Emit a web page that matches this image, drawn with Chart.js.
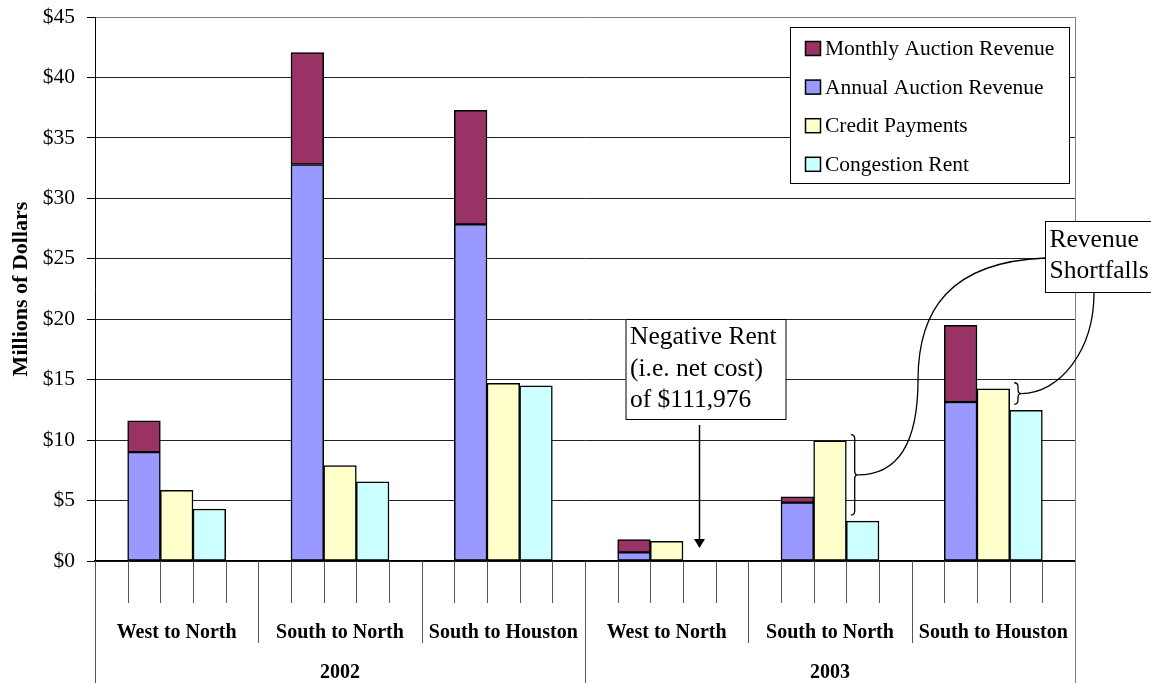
<!DOCTYPE html>
<html lang="en">
<head>
<meta charset="UTF-8">
<title>Auction Revenue, Credit Payments and Congestion Rent</title>
<script src="https://cdn.jsdelivr.net/npm/chart.js"></script>
<style>
  body { margin: 0; background: #fff; }
  canvas { display: block; }
</style>
</head>
<body>
<canvas id="revenueChart" width="1151" height="683"></canvas>
<script>
  // Millions of dollars, one value per route, 2002 routes first then 2003
  const years = ['2002', '2003'];
  const routes = ['West to North', 'South to North', 'South to Houston'];
  const annualAuction  = [9.0, 32.8, 27.84, 0.72, 4.83, 13.15];
  const monthlyAuction = [2.6, 9.25, 9.43, 1.05, 0.47, 6.35];
  const creditPayments = [5.85, 7.9, 14.69, 1.63, 9.95, 14.25];
  const congestionRent = [4.3, 6.55, 14.5, -0.111976, 3.3, 12.46];
  const yMax = 45;
  const yStep = 5;

  const SERIF = "'Liberation Serif', 'Times New Roman', serif";
  const SLOTS = 5;                       // empty, auction stack, credit, rent, empty
  const groupCount = years.length * routes.length;
  const slotCount = groupCount * SLOTS;

  // put one value per group into its slot, leave the other slots empty
  function spread(values, slot) {
    const out = [];
    values.forEach(v => {
      for (let s = 0; s < SLOTS; s++) out.push(s === slot ? v : null);
    });
    return out;
  }

  const labels = [];
  years.forEach(yr => routes.forEach(r => {
    for (let s = 0; s < SLOTS; s++) labels.push(r + ' ' + yr);
  }));

  const barStyle = {
    borderColor: '#000',
    borderWidth: 1.5,
    borderSkipped: false,
    categoryPercentage: 1,
    barPercentage: 1
  };

  const datasets = [
    { label: 'Annual Auction Revenue', data: spread(annualAuction, 1), backgroundColor: '#9999FF', ...barStyle },
    { label: 'Monthly Auction Revenue', data: spread(monthlyAuction, 1), backgroundColor: '#993366', ...barStyle },
    { label: 'Credit Payments', data: spread(creditPayments, 2), backgroundColor: '#FFFFCC', ...barStyle },
    { label: 'Congestion Rent', data: spread(congestionRent, 3), backgroundColor: '#CCFFFF', ...barStyle }
  ];
  const legendOrder = [1, 0, 2, 3];

  function line(ctx, x1, y1, x2, y2) {
    ctx.beginPath();
    ctx.moveTo(x1, y1);
    ctx.lineTo(x2, y2);
    ctx.stroke();
  }

  function brace(ctx, x0, top, bot, d) {
    const mid = (top + bot) / 2;
    const r = Math.min(4, (bot - top) / 4);
    const xs = x0 + d * 0.55;
    ctx.beginPath();
    ctx.moveTo(x0, top);
    ctx.quadraticCurveTo(xs, top, xs, top + r);
    ctx.lineTo(xs, mid - r);
    ctx.quadraticCurveTo(xs, mid, x0 + d, mid);
    ctx.quadraticCurveTo(xs, mid, xs, mid + r);
    ctx.lineTo(xs, bot - r);
    ctx.quadraticCurveTo(xs, bot, x0, bot);
    ctx.stroke();
  }

  function textBox(ctx, left, top, width, height, lines, baseline0, lineGap) {
    ctx.fillStyle = '#fff';
    ctx.fillRect(left, top, width, height);
    ctx.strokeStyle = '#000';
    ctx.lineWidth = 1;
    ctx.strokeRect(left + 0.5, top + 0.5, width, height);
    ctx.fillStyle = '#000';
    ctx.font = '25.5px ' + SERIF;
    ctx.textAlign = 'left';
    ctx.textBaseline = 'alphabetic';
    lines.forEach((t, i) => ctx.fillText(t, left + 4.5, baseline0 + i * lineGap));
  }

  // axis separators, group labels, legend and call-outs
  const overlay = {
    id: 'overlay',
    afterDraw(chart) {
      const { ctx, chartArea: a, scales: { x, y } } = chart;
      const H = chart.height;
      const w = (a.right - a.left) / slotCount;
      ctx.save();

      // plot frame on the right, and axis lines carried down through the label rows
      ctx.lineWidth = 1;
      ctx.strokeStyle = '#808080';
      line(ctx, Math.round(a.right) + 0.5, a.top, Math.round(a.right) + 0.5, H);
      ctx.strokeStyle = '#555';
      line(ctx, Math.round(a.left) + 0.5, a.bottom, Math.round(a.left) + 0.5, H);

      for (let i = 1; i < slotCount; i++) {
        const px = Math.round(a.left + i * w) + 0.5;
        let end = a.bottom + 42;
        if (i % (SLOTS * routes.length) === 0) end = H;
        else if (i % SLOTS === 0) end = a.bottom + 82;
        line(ctx, px, a.bottom, px, end);
      }

      ctx.fillStyle = '#000';
      ctx.textAlign = 'center';
      ctx.textBaseline = 'alphabetic';
      ctx.font = 'bold 20px ' + SERIF;
      for (let g = 0; g < groupCount; g++) {
        const cx = a.left + (g + 0.5) * SLOTS * w;
        ctx.fillText(routes[g % routes.length], cx, a.bottom + 77);
      }
      years.forEach((yr, k) => {
        const cx = a.left + (k + 0.5) * SLOTS * routes.length * w;
        ctx.fillText(yr, cx, a.bottom + 117);
      });

      // y axis title
      ctx.save();
      ctx.translate(27, (a.top + a.bottom) / 2);
      ctx.rotate(-Math.PI / 2);
      ctx.font = 'bold 22px ' + SERIF;
      ctx.fillText('Millions of Dollars', 0, 0);
      ctx.restore();

      // legend
      const lx = 790, ly = 27;
      ctx.fillStyle = '#fff';
      ctx.fillRect(lx, ly, 279, 156);
      ctx.strokeStyle = '#000';
      ctx.strokeRect(lx + 0.5, ly + 0.5, 279, 156);
      ctx.font = '21.5px ' + SERIF;
      ctx.textAlign = 'left';
      legendOrder.forEach((di, row) => {
        const ds = chart.data.datasets[di];
        const top = ly + 14 + row * 38.6;
        ctx.fillStyle = ds.backgroundColor;
        ctx.fillRect(805, top, 16, 15);
        ctx.lineWidth = 1.5;
        ctx.strokeStyle = '#000';
        ctx.strokeRect(805.5, top + 0.5, 15, 14);
        ctx.fillStyle = '#000';
        ctx.fillText(ds.label, 825, top + 14);
      });
      ctx.lineWidth = 1;

      // negative rent call-out with arrow to the 2003 West to North rent slot
      const ax = Math.round(x.getPixelForValue(3 * SLOTS + 3)) + 0.5;
      const zeroY = y.getPixelForValue(0);
      ctx.strokeStyle = '#000';
      ctx.lineWidth = 1.5;
      line(ctx, ax, 425, ax, zeroY - 20);
      ctx.beginPath();
      ctx.moveTo(ax - 5.5, zeroY - 22);
      ctx.lineTo(ax + 5.5, zeroY - 22);
      ctx.lineTo(ax, zeroY - 13);
      ctx.closePath();
      ctx.fillStyle = '#000';
      ctx.fill();
      ctx.lineWidth = 1;
      textBox(ctx, ax - 74, 319, 160, 100, ['Negative Rent', '(i.e. net cost)', 'of $111,976'], 344, 31.5);

      // braces spanning credit payments over congestion rent, 2003 South groups
      ctx.lineWidth = 1.3;
      ctx.strokeStyle = '#000';
      const tips = [4, 5].map(g => {
        const creditRight = x.getPixelForValue(g * SLOTS + 2) + w / 2;
        const top = y.getPixelForValue(creditPayments[g]) - 6;
        const bot = y.getPixelForValue(congestionRent[g]) - 6;
        const bx = creditRight + 4.5;
        brace(ctx, bx, top, bot, 7);
        return { x: bx + 7, y: (top + bot) / 2 };
      });

      // leader curves from the shortfall label
      ctx.beginPath();
      ctx.moveTo(1045, 258);
      ctx.bezierCurveTo(950, 262, 918, 310, 918, 380);
      ctx.bezierCurveTo(918, 440, 900, tips[0].y, tips[0].x, tips[0].y);
      ctx.stroke();
      ctx.beginPath();
      ctx.moveTo(1094, 293);
      ctx.bezierCurveTo(1094, 350, 1060, tips[1].y, tips[1].x, tips[1].y);
      ctx.stroke();
      ctx.lineWidth = 1;
      textBox(ctx, 1045, 221, 120, 71, ['Revenue', 'Shortfalls'], 246.5, 31.5);

      ctx.restore();
    }
  };

  new Chart(document.getElementById('revenueChart'), {
    type: 'bar',
    data: { labels, datasets },
    plugins: [overlay],
    options: {
      responsive: false,
      animation: false,
      layout: { padding: { top: 17, right: 76, left: 0, bottom: 0 } },
      plugins: {
        legend: { display: false },
        tooltip: { enabled: false }
      },
      scales: {
        x: {
          stacked: true,
          ticks: { display: false },
          grid: { display: false },
          border: { display: true, color: '#000', width: 1.5 },
          afterFit: s => { s.height = 122; }
        },
        y: {
          stacked: true,
          min: 0,
          max: yMax,
          ticks: {
            stepSize: yStep,
            padding: 12,
            color: '#000',
            font: { family: SERIF, size: 21.5 },
            callback: v => '$' + v
          },
          grid: {
            color: c => (c.tick && c.tick.value === yMax ? '#808080' : '#222'),
            lineWidth: 1,
            tickLength: 8,
            tickColor: '#000'
          },
          border: { display: true, color: '#000', width: 1 },
          afterFit: s => { s.width = 95; s.paddingTop = 0; s.paddingBottom = 0; }
        }
      }
    }
  });
</script>
</body>
</html>
